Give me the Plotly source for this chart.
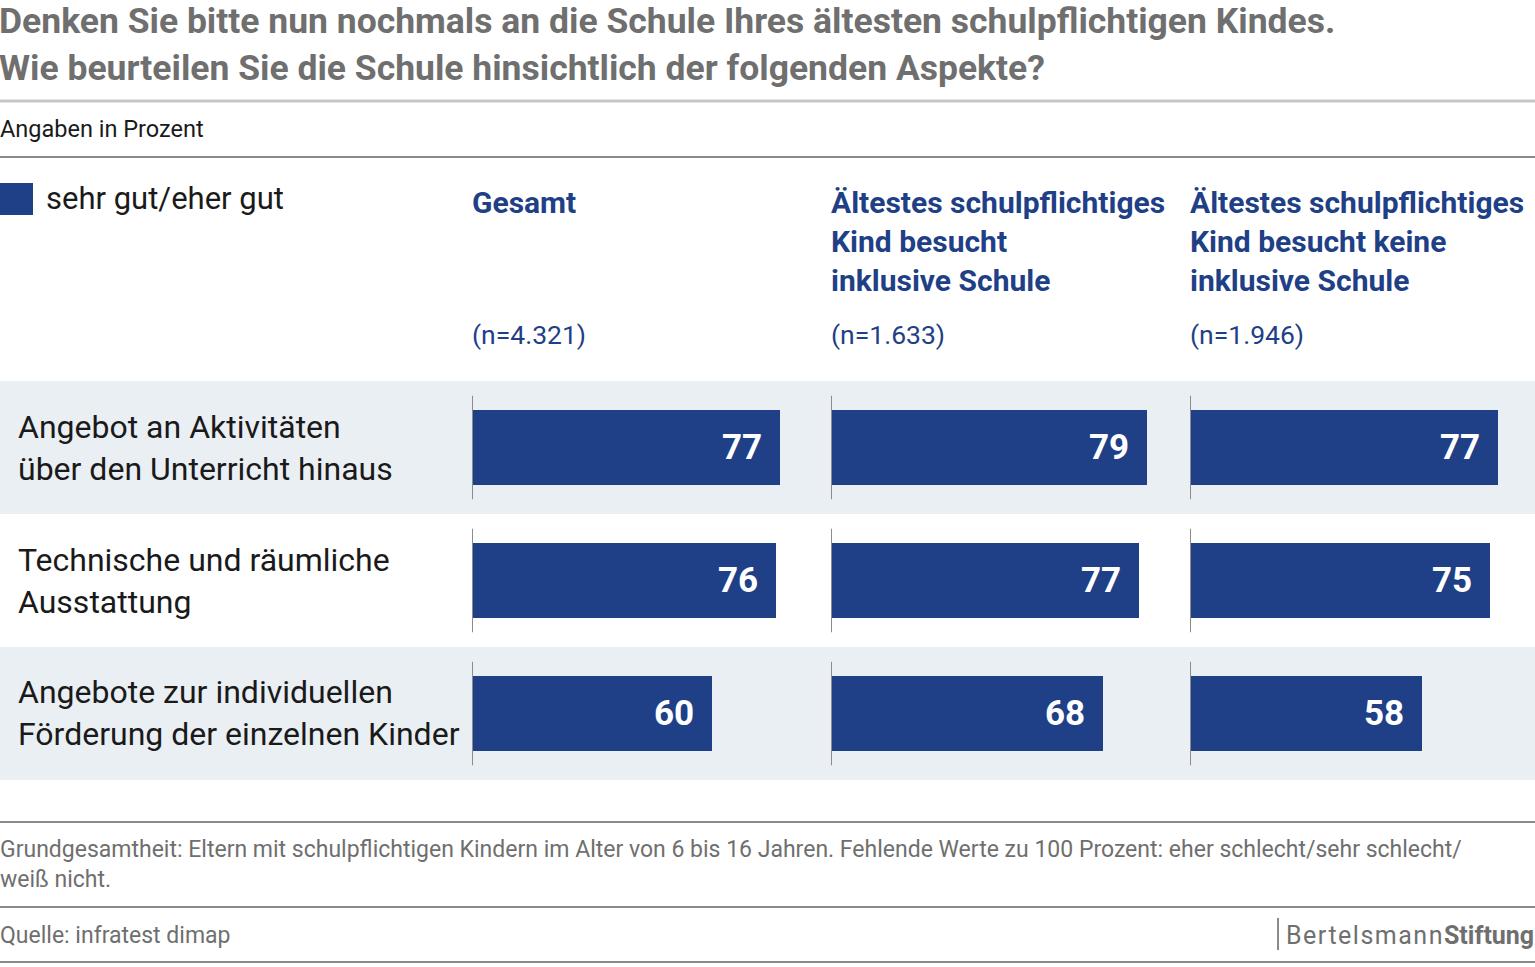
import plotly.graph_objects as go

W, H = 1535, 967

categories = [
    "Angebot an Aktivitäten<br>über den Unterricht hinaus",
    "Technische und räumliche<br>Ausstattung",
    "Angebote zur individuellen<br>Förderung der einzelnen Kinder",
]
gesamt = [77, 76, 60]
inklusiv = [79, 77, 68]
nicht_inklusiv = [77, 75, 58]
series = [gesamt, inklusiv, nicht_inklusiv]
group_titles = [
    "Gesamt",
    "Ältestes schulpflichtiges<br>Kind besucht<br>inklusive Schule",
    "Ältestes schulpflichtiges<br>Kind besucht keine<br>inklusive Schule",
]
group_n = ["(n=4.321)", "(n=1.633)", "(n=1.946)"]

BLUE = "#1f3f86"
BAND = "#eaeff4"
GRAY_T = "#6f6f6f"
FONT = "Roboto"

def px(x):
    return x / W

def py(y):
    return 1 - y / H

col_x0 = [472, 831, 1190]
col_x1 = [831, 1190, 1535]
PX_PER_UNIT = 4.0

fig = go.Figure()
ypos = list(range(len(categories)))
axes = ["x", "x2", "x3"]
for i, vals in enumerate(series):
    fig.add_trace(go.Bar(
        x=vals, y=ypos, orientation="h", xaxis=axes[i], yaxis="y",
        marker=dict(color=BLUE, line=dict(width=0)), width=0.565,
        showlegend=False, hoverinfo="skip",
    ))
    for j, v in enumerate(vals):
        fig.add_annotation(
            x=v, y=j, xref=axes[i], yref="y", text=f"<b>{v}</b>",
            xanchor="right", yanchor="middle", xshift=-16, showarrow=False,
            font=dict(family=FONT, size=35, color="white"),
        )

layout_axes = {}
for i in range(3):
    key = "xaxis" if i == 0 else f"xaxis{i+1}"
    layout_axes[key] = dict(
        domain=[px(col_x0[i]), px(col_x1[i])],
        range=[0, (col_x1[i] - col_x0[i]) / PX_PER_UNIT],
        showgrid=False, zeroline=False, showticklabels=False, showline=False,
        anchor="y", fixedrange=True,
    )

fig.update_layout(
    width=W, height=H, margin=dict(l=0, r=0, t=0, b=0),
    paper_bgcolor="white", plot_bgcolor="rgba(0,0,0,0)",
    yaxis=dict(domain=[py(780), py(381)], range=[2.5, -0.5],
               showgrid=False, zeroline=False, showticklabels=False,
               showline=False, fixedrange=True),
    bargap=0, **layout_axes,
)

shapes = []
for j in [0, 2]:
    shapes.append(dict(type="rect", xref="paper", yref="y", x0=0, x1=1,
                       y0=j - 0.5, y1=j + 0.5, fillcolor=BAND,
                       line=dict(width=0), layer="below"))
for i in range(3):
    for j in range(3):
        shapes.append(dict(type="line", xref=axes[i], yref="y", x0=0, x1=0,
                           y0=j - 0.39, y1=j + 0.39,
                           line=dict(color="#8c8c8c", width=2), layer="above"))
for yy, col, wd in [(101, "#c6c6c6", 3), (157, "#8a8a8a", 2), (822, "#8a8a8a", 2),
                    (907, "#8a8a8a", 2), (962, "#8a8a8a", 2)]:
    shapes.append(dict(type="line", xref="paper", yref="paper", x0=0, x1=1,
                       y0=py(yy), y1=py(yy), line=dict(color=col, width=wd)))
shapes.append(dict(type="rect", xref="paper", yref="paper", x0=0, x1=px(33),
                   y0=py(215), y1=py(183), fillcolor=BLUE, line=dict(width=0)))
shapes.append(dict(type="line", xref="paper", yref="paper", x0=px(1278), x1=px(1278),
                   y0=py(918), y1=py(950), line=dict(color="#8a8a8a", width=2)))
fig.update_layout(shapes=shapes)

def ann(text, x, y, size, color, xanchor="left", yanchor="middle", align="left"):
    fig.add_annotation(text=text, x=px(x), y=py(y), xref="paper", yref="paper",
                       xanchor=xanchor, yanchor=yanchor, align=align, showarrow=False,
                       font=dict(family=FONT, size=size, color=color))

ann("<b>Denken Sie bitte nun nochmals an die Schule Ihres ältesten schulpflichtigen Kindes.</b>",
    -3, 21, 35.5, GRAY_T)
ann("<b>Wie beurteilen Sie die Schule hinsichtlich der folgenden Aspekte?</b>",
    -3, 68, 35.5, GRAY_T)
ann("Angaben in Prozent", -2, 129, 23.5, "#1a1a1a")
ann("sehr gut/eher gut", 44, 198, 31, "#1a1a1a")

for i in range(3):
    ann(f"<b>{group_titles[i]}</b>", col_x0[i] - 2, 183, 30, BLUE, yanchor="top")
    ann(group_n[i], col_x0[i] - 2, 334, 26.5, BLUE)

for j, c in enumerate(categories):
    ann(c, 16, [448, 581, 713][j], 32, "#1a1a1a")

ann("Grundgesamtheit: Eltern mit schulpflichtigen Kindern im Alter von 6 bis 16 Jahren. "
    "Fehlende Werte zu 100 Prozent: eher schlecht/sehr schlecht/<br>weiß nicht.",
    -2, 834, 23, GRAY_T, yanchor="top")
ann("Quelle: infratest dimap", -2, 935, 23, GRAY_T)
ann("<span style='letter-spacing:1.5px'>Bertelsmann</span><b>Stiftung</b>", 1536, 935, 25,
    GRAY_T, xanchor="right")

fig.write_html("out.html", config={"displayModeBar": False},
               post_script="document.body.style.margin='0';")
